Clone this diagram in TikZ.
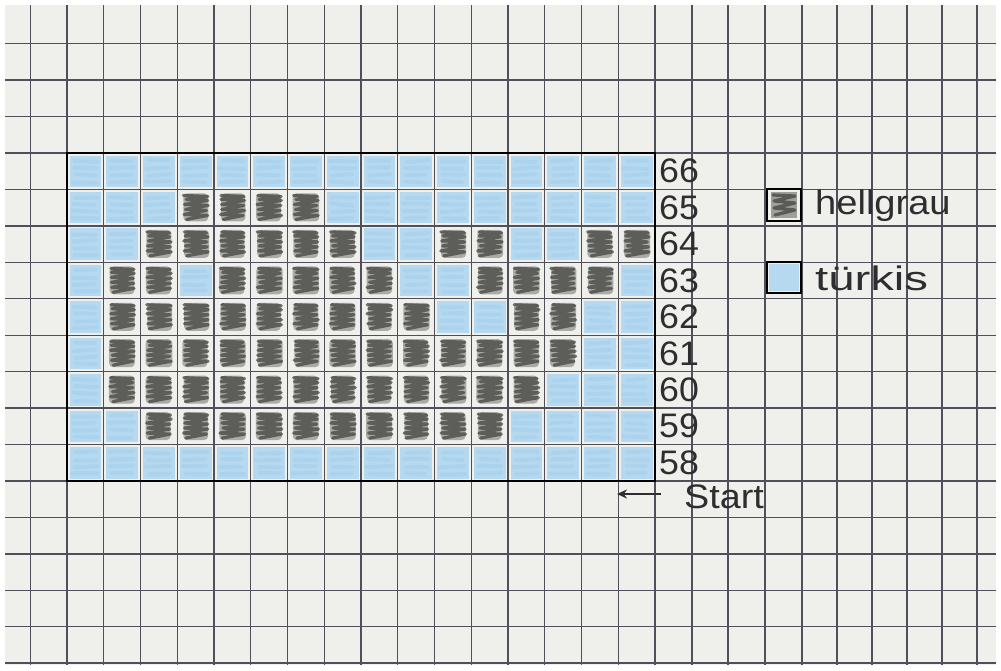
\documentclass[tikz,border=0pt]{standalone}
\usepackage{fontspec}
\setmainfont{Liberation Sans}
\usetikzlibrary{arrows.meta}
\definecolor{paper}{HTML}{EFEFEB}
\definecolor{gridline}{HTML}{50505A}
\definecolor{turq}{HTML}{B6D9F0}
\definecolor{turqdark}{HTML}{9CC9E8}
\definecolor{greyfill}{HTML}{7C7C78}
\definecolor{greyink}{HTML}{40403D}
\definecolor{ink}{HTML}{2E2E30}
\newcommand\bluecell[2]{%
  \pgfmathsetmacro\xa{67+(#1-1)*36.75}%
  \pgfmathsetmacro\ya{153+(#2)*36.44}%
  \fill[turq] (\xa+2.5,\ya+2.5) rectangle (\xa+34.25,\ya+34);
  \foreach \k in {0,...,3}{%
    \draw[turqdark, line width=4, opacity=.35, line cap=round]
      (\xa+7+2*rand,\ya+8+\k*7+rand) -- (\xa+29+2*rand,\ya+8+\k*7+rand);}%
}
\newcommand\darkcell[2]{%
  \pgfmathsetmacro\xa{67+(#1-1)*36.75}%
  \pgfmathsetmacro\ya{153+(#2)*36.44}%
  \fill[greyfill, opacity=.6, rounded corners=4] (\xa+6+rand,\ya+4) rectangle (\xa+31+rand,\ya+32);
  \draw[scribble]
    (\xa+7+rand,\ya+6) -- (\xa+30+rand,\ya+7) -- (\xa+8+rand,\ya+10) -- (\xa+30+rand,\ya+11)
    -- (\xa+7+rand,\ya+15) -- (\xa+30+rand,\ya+16) -- (\xa+8+rand,\ya+20) -- (\xa+30+rand,\ya+21)
    -- (\xa+7+rand,\ya+25) -- (\xa+30+rand,\ya+26) -- (\xa+9+rand,\ya+30);
}
\begin{document}
\begin{tikzpicture}[x=1pt,y=-1pt,
  scribble/.style={greyink, line width=3.2, line cap=round, line join=round, opacity=.72},
  gline/.style={gridline, line width=1.4},
  frame/.style={black, line width=2.8},
  handtext/.style={ink, font=\fontsize{34}{38}\selectfont, inner sep=0pt},
  lbox/.style={black, line width=2.4}]
\pgfmathsetseed{7}
\useasboundingbox (0,0) rectangle (1001,670);
\fill[white] (0,0) rectangle (1001,670);
\fill[paper] (5,5) rectangle (996,665);
% chart cells
\foreach \r/\vals in {
  0/{0,0,0,0,0,0,0,0,0,0,0,0,0,0,0,0},
  1/{0,0,0,1,1,1,1,0,0,0,0,0,0,0,0,0},
  2/{0,0,1,1,1,1,1,1,0,0,1,1,0,0,1,1},
  3/{0,1,1,0,1,1,1,1,1,0,0,1,1,1,1,0},
  4/{0,1,1,1,1,1,1,1,1,1,0,0,1,1,0,0},
  5/{0,1,1,1,1,1,1,1,1,1,1,1,1,1,0,0},
  6/{0,1,1,1,1,1,1,1,1,1,1,1,1,0,0,0},
  7/{0,0,1,1,1,1,1,1,1,1,1,1,0,0,0,0},
  8/{0,0,0,0,0,0,0,0,0,0,0,0,0,0,0,0}}{%
  \foreach \v [count=\c] in \vals {%
    \ifnum\v=1 \darkcell{\c}{\r}\else\bluecell{\c}{\r}\fi}}
% grid
\foreach \k in {-3,...,14}{\draw[gline] (5,153+\k*36.44) -- (996,153+\k*36.44);}
\foreach \k in {-1,...,16}{\draw[gline] (67+\k*36.75,5) -- (67+\k*36.75,665);}
\foreach \x in {692,728,765,802,837,872,907,942,977}{\draw[gline] (\x,5) -- (\x,665);}
% chart frame
\draw[frame] (67,153) rectangle (655,481);
% row numbers
\foreach \n [count=\i from 0] in {66,65,64,63,62,61,60,59,58}{%
  \node[handtext, anchor=west] (row\n) at (659,153+36.44*\i+18.2) {\scalebox{1.05}[1]{\n}};}
% legend
\fill[greyfill, opacity=.7] (771,192) rectangle (797,218);
\draw[scribble] (773,195) -- (795,196) -- (774,201) -- (795,203) -- (774,208) -- (795,210) -- (775,215);
\draw[lbox] (767,189) rectangle (801,221);
\node[handtext, anchor=west] (hellgrau) at (815,206) {\scalebox{1.12}[1]{hellgrau}};
\fill[turq] (769,264) rectangle (799,291);
\draw[lbox] (767,262) rectangle (801,293);
\node[handtext, anchor=west] (tuerkis) at (815,278) {\scalebox{1.39}[1]{türkis}};
% start arrow
\coordinate (arrfrom) at (661,494);
\coordinate (arrto) at (617,494);
\draw[ink, line width=2, -{Stealth[length=10pt,width=9pt]}] (arrfrom) -- (arrto);
\node[handtext, anchor=west] (start) at (684,497) {\scalebox{1.11}[1]{Start}};
\end{tikzpicture}
\end{document}
